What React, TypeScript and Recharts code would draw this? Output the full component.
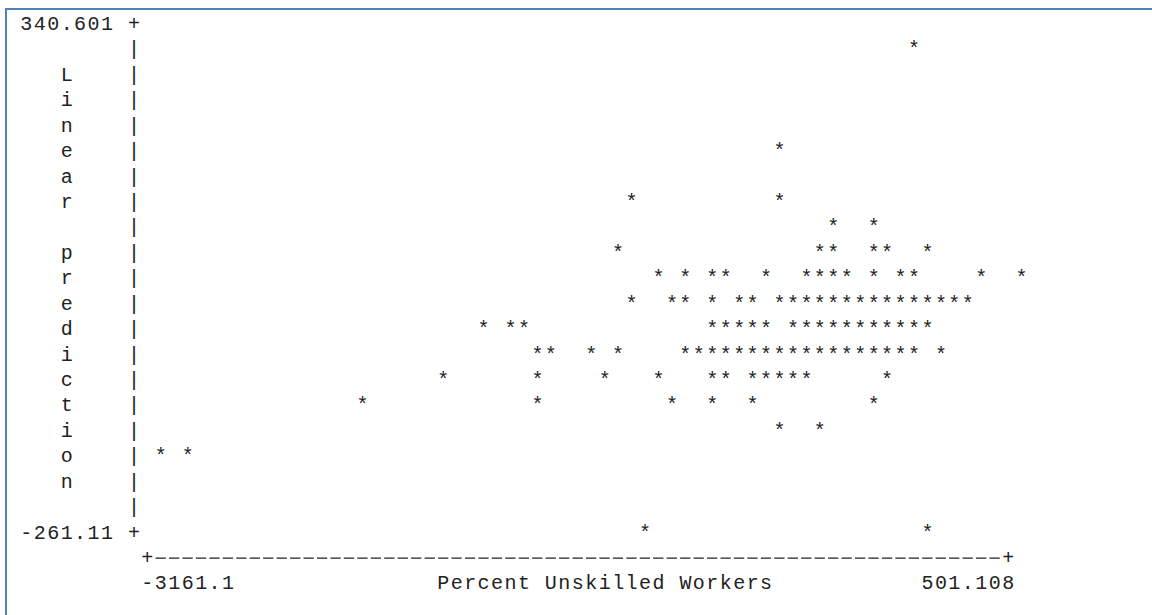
import { ScatterChart, Scatter, XAxis, YAxis, Label } from "recharts";

// axis ends as printed on the plot
const X_MIN = -3161.1;
const X_MAX = 501.108;
const Y_MIN = -261.11;
const Y_MAX = 340.601;

const xTitle = "Percent Unskilled Workers";
const yTitle = "Linear prediction";

// one entry per printed line of the plot: the predicted value and the x values on it
const yLevels = [310.5, 190.2, 130.0, 99.9, 69.8, 39.7, 9.7, -20.4, -50.5, -80.6, -110.7, -140.8, -170.8, -261.1];

const x310 = [100.6];
const x190 = [-471.7];
const x130 = [-1101.1, -471.7];
const x100 = [-242.8, -71.1];
const x70 = [-1158.3, -300.0, -242.8, -71.1, -13.9, 157.8];
const x40 = [-986.7, -872.2, -757.8, -700.6, -528.9, -357.2, -300.0, -242.8, -185.6, -71.1, 43.3, 100.6, 386.7, 558.3];
const x10 = [
  -1101.1, -929.4, -872.2, -757.8, -643.3, -586.1, -471.7, -414.4, -357.2, -300.0, -242.8,
  -185.6, -128.3, -71.1, -13.9, 43.3, 100.6, 157.8, 215.0, 272.2, 329.4,
];
const xM20 = [
  -1730.5, -1616.1, -1558.9, -757.8, -700.6, -643.3, -586.1, -528.9, -414.4, -357.2, -300.0,
  -242.8, -185.6, -128.3, -71.1, -13.9, 43.3, 100.6, 157.8,
];
const xM50 = [
  -1501.7, -1444.4, -1272.8, -1158.3, -872.2, -815.0, -757.8, -700.6, -643.3, -586.1, -528.9,
  -471.7, -414.4, -357.2, -300.0, -242.8, -185.6, -128.3, -71.1, -13.9, 43.3, 100.6, 215.0,
];
const xM80 = [-1902.2, -1501.7, -1215.6, -986.7, -757.8, -700.6, -586.1, -528.9, -471.7, -414.4, -357.2, -13.9];
const xM110 = [-2245.5, -1501.7, -929.4, -757.8, -586.1, -71.1];
const xM140 = [-471.7, -300.0];
const xM170 = [-3103.9, -2989.4];
const xM261 = [-1043.9, 157.8];

const xByLevel = [x310, x190, x130, x100, x70, x40, x10, xM20, xM50, xM80, xM110, xM140, xM170, xM261];

const points = yLevels.flatMap((y, i) => xByLevel[i].map((x) => ({ x, y })));

// text grid of the listing
const W = 1152;
const H = 615;
const FONT = "'Liberation Mono', 'DejaVu Sans Mono', monospace";
const FONT_SIZE = 20;
const CELL = 13.45;
const SPACING = CELL - FONT_SIZE * 0.6;
const COL0 = 26.3; // centre of first column
const ROW_H = 25.43;
const BASE0 = 30; // baseline of first line
const BASE_OFF = 7; // baseline below the middle of a line
const ROWS = 20;
const AXIS_COL = 9;
const PLOT_COLS = 64;
const X_VIEW_MAX = 600;

const pxPerUnit = (PLOT_COLS * CELL) / (X_MAX - X_MIN);
const plotLeft = COL0 + AXIS_COL * CELL;
const plotRight = plotLeft + (X_VIEW_MAX - X_MIN) * pxPerUnit;
const plotTop = BASE0 - BASE_OFF;
const plotBottom = plotTop + ROWS * ROW_H;
const rowStep = (Y_MAX - Y_MIN) / ROWS;
const yRowTicks = Array.from({ length: ROWS + 1 }, (_, r) => Y_MAX - r * rowStep);

const INK = "#222";

const CellText = ({ col, row, text }: { col: number; row: number; text: string }) => (
  <text
    x={COL0 + col * CELL - FONT_SIZE * 0.3}
    y={BASE0 + row * ROW_H}
    fontFamily={FONT}
    fontSize={FONT_SIZE}
    letterSpacing={SPACING}
    fill={INK}
    style={{ whiteSpace: "pre" }}
  >
    {text}
  </text>
);

const YTick = (props: any) => {
  const r = Math.round((Y_MAX - props.payload.value) / rowStep);
  if (r === 0) return <CellText col={0} row={r} text={`${Y_MAX} +`} />;
  if (r === ROWS) return <CellText col={0} row={r} text={`${Y_MIN} +`} />;
  const ch = yTitle[r - 2];
  return (
    <g>
      {ch && ch !== " " ? <CellText col={3} row={r} text={ch} /> : null}
      <CellText col={8} row={r} text="|" />
    </g>
  );
};

// "+----...----+" rule under the plot, dashes one per character cell
const Rule = ({ col }: { col: number }) => {
  const row = ROWS + 1;
  const y = BASE0 + row * ROW_H - 6;
  const x1 = COL0 + (col + 0.5) * CELL;
  const x2 = COL0 + (col + PLOT_COLS - 0.5) * CELL;
  return (
    <g>
      <CellText col={col} row={row} text="+" />
      <line
        x1={x1 + 1.5}
        x2={x2}
        y1={y}
        y2={y}
        stroke={INK}
        strokeWidth={1.3}
        strokeDasharray={`${CELL - 3.2} 3.2`}
      />
      <CellText col={col + PLOT_COLS} row={row} text="+" />
    </g>
  );
};

const XTick = (props: any) => {
  const col = Math.round((props.x - COL0) / CELL);
  if (props.payload.value === X_MIN) {
    return (
      <g>
        <Rule col={col} />
        <CellText col={col} row={ROWS + 2} text={String(X_MIN)} />
      </g>
    );
  }
  const label = String(X_MAX);
  return <CellText col={col - label.length + 1} row={ROWS + 2} text={label} />;
};

const Star = (props: any) => (
  <text
    x={props.cx}
    y={props.cy + BASE_OFF}
    textAnchor="middle"
    fontFamily={FONT}
    fontSize={FONT_SIZE}
    fill={INK}
  >
    *
  </text>
);

export default function App() {
  return (
    <div style={{ position: "absolute", left: 0, top: 0, width: W, height: H, background: "#fff" }}>
      <div
        style={{
          position: "absolute",
          left: 5,
          top: 8,
          width: W - 5,
          height: H - 8,
          borderLeft: "2px solid #4f81bd",
          borderTop: "2px solid #4f81bd",
          boxSizing: "border-box",
        }}
      />
      <div style={{ position: "absolute", left: 0, top: 0 }}>
        <ScatterChart
          width={W}
          height={H}
          margin={{ top: plotTop, right: W - plotRight, bottom: 0, left: 0 }}
        >
          <XAxis
            type="number"
            dataKey="x"
            domain={[X_MIN, X_VIEW_MAX]}
            ticks={[X_MIN, X_MAX]}
            interval={0}
            height={H - plotBottom}
            axisLine={false}
            tickLine={false}
            tick={<XTick />}
          >
            <Label content={() => <CellText col={31} row={ROWS + 2} text={xTitle} />} />
          </XAxis>
          <YAxis
            type="number"
            dataKey="y"
            domain={[Y_MIN, Y_MAX]}
            ticks={yRowTicks}
            interval={0}
            width={plotLeft}
            axisLine={false}
            tickLine={false}
            tick={<YTick />}
          />
          <Scatter data={points} shape={<Star />} isAnimationActive={false} />
        </ScatterChart>
      </div>
    </div>
  );
}
